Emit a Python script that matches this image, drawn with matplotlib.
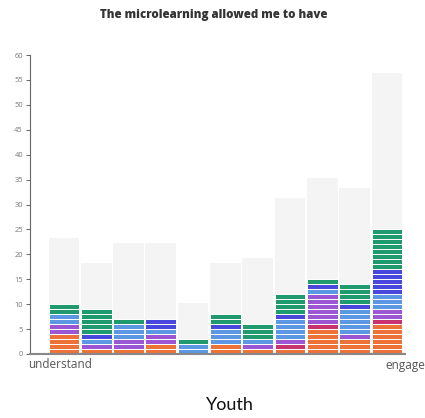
import matplotlib
matplotlib.use("Agg")
import matplotlib.pyplot as plt
import numpy as np

# ---- data ----
positions = list(range(11))
left_label = "understand"
right_label = "engage"
title = "The microlearning allowed me to have"
caption = "Youth"

background_totals = [23.3, 18.3, 22.3, 22.3, 10.3, 18.3, 19.3, 31.3, 35.3, 33.3, 56.3]

series_names = ["orange", "magenta", "purple", "lightblue", "blue", "green"]
orange = [4, 1, 1, 2, 0, 2, 1, 1, 5, 3, 6]
magenta = [0, 0, 0, 0, 0, 0, 0, 1, 1, 0, 1]
purple = [2, 1, 2, 2, 0, 0, 1, 1, 6, 1, 2]
lightblue = [2, 1, 3, 1, 2, 3, 1, 4, 1, 5, 3]
blue = [0, 1, 0, 2, 0, 1, 0, 1, 1, 1, 5]
green = [2, 5, 1, 0, 1, 2, 3, 4, 1, 4, 8]
series_colors = ["#ec7238", "#c8336f", "#9a56d3", "#5b97e2", "#4848dd", "#1f9a6e"]

y_ticks = [0, 5, 10, 15, 20, 25, 30, 35, 40, 45, 50, 55, 60]

# ---- figure ----
fig = plt.figure(figsize=(4.25, 4.18), dpi=100)
ax = fig.add_axes([30/425, (418-354)/418, (405-30)/425, (354-55)/418])

x = np.array(positions, dtype=float)
width = 0.95
ax.bar(x, background_totals, width=width, color="#f4f4f4", zorder=1)

series = [orange, magenta, purple, lightblue, blue, green]
bottom = np.zeros(len(x))
for vals, col in zip(series, series_colors):
    vals = np.array(vals)
    for j in range(vals.max() if vals.max() > 0 else 0):
        mask = vals > j
        ax.bar(x[mask], np.ones(mask.sum()), bottom=(bottom + j)[mask], width=width,
               color=col, edgecolor="white", linewidth=0.7, zorder=2)
    bottom += vals

ax.set_xlim(-1.05, 10.56)
ax.set_ylim(0, 60)
ax.set_yticks(y_ticks)
ax.set_yticklabels([str(t) for t in y_ticks], fontsize=5.4, color="#777777", family="Open Sans")
ax.tick_params(axis="y", length=3, width=0.7, color="#666666", pad=2)
ax.set_xticks([])
for s in ["top", "right"]:
    ax.spines[s].set_visible(False)
ax.spines["left"].set_color("#666666")
ax.spines["left"].set_linewidth(0.8)
ax.spines["bottom"].set_color("#888888")
ax.spines["bottom"].set_linewidth(1.5)

fig.text(28/425, 1 - 365/418, left_label, ha="left", va="center", fontsize=8.5,
         color="#555555", family="Open Sans")
fig.text(425/425, 1 - 365/418, right_label, ha="right", va="center", fontsize=8.5,
         color="#555555", family="Open Sans")
fig.text(214/425, 1 - 15/418, title, ha="center", va="center", fontsize=8.3,
         fontweight="heavy", color="#333333", family="Open Sans")
fig.text(230/425, 1 - 405/418, caption, ha="center", va="center", fontsize=13,
         fontweight="normal", color="#111111", family="Lato")

fig.savefig("out.png", dpi=100, facecolor="white")
